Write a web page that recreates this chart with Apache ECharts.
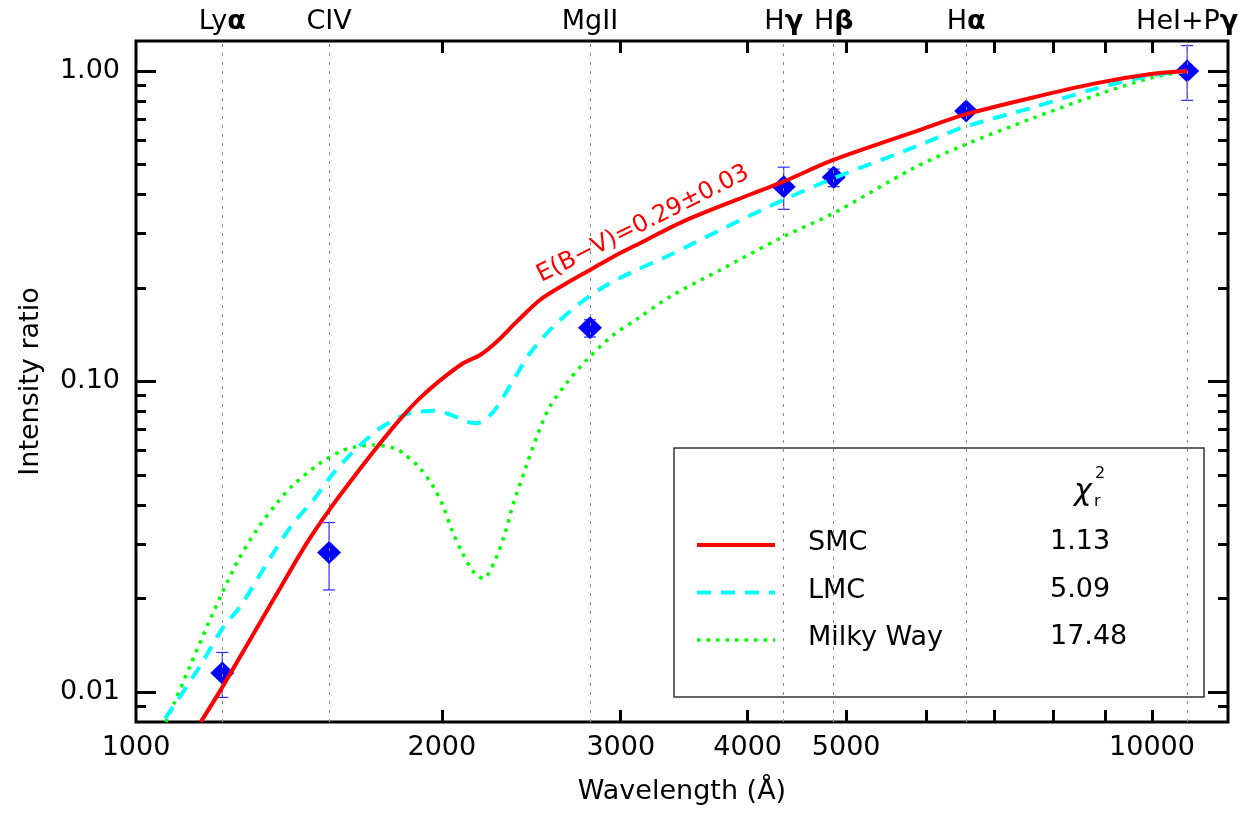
<!DOCTYPE html>
<html><head><meta charset="utf-8">
<script src="https://cdn.jsdelivr.net/npm/echarts@6/dist/echarts.min.js"></script>
<style>html,body{margin:0;padding:0;background:#fff}#c{width:1258px;height:817px}</style>
</head><body><div id="c"></div><script>
// ---- data ----
const lineWavelengths = [1216, 1549, 2798, 4340, 4861, 6563, 10830];
const lineNames = ['Ly{g|α}', 'CIV', 'MgII', 'H{g|γ}', 'H{g|β}', 'H{g|α}', 'HeI+P{g|γ}'];
const xTickValues = [2000, 3000, 4000, 5000, 6000, 7000, 8000, 9000, 10000];
const xLabelValues = [1000, 2000, 3000, 4000, 5000, 10000];
const yMajorValues = [0.01, 0.1, 1];
const yMinorValues = [0.009, 0.02, 0.03, 0.04, 0.05, 0.06, 0.07, 0.08, 0.09, 0.2, 0.3, 0.4, 0.5, 0.6, 0.7, 0.8, 0.9];

const smcWave = [1158, 1217, 1365, 1472, 1550, 1649, 1739, 1819, 1904, 1992, 2099, 2181, 2265, 2370, 2498, 2653, 2798, 2950, 3133, 3483, 4052, 4337, 4857, 5912, 6514, 7620, 8848, 9978, 10830];
const smcRatio = [0.0080, 0.0104, 0.0198, 0.0301, 0.0386, 0.0506, 0.0632, 0.0755, 0.0885, 0.1008, 0.1145, 0.1217, 0.1343, 0.1558, 0.1830, 0.2071, 0.2286, 0.2523, 0.2788, 0.3313, 0.4038, 0.4399, 0.5169, 0.6457, 0.7205, 0.8203, 0.9155, 0.9779, 1.0];

const lmcWave = [1068, 1156, 1219, 1266, 1365, 1428, 1495, 1564, 1649, 1739, 1819, 1861, 1962, 2022, 2132, 2165, 2248, 2352, 2442, 2574, 2735, 2906, 3110, 3354, 3815, 4337, 4857, 5912, 6514, 7620, 8848, 9978, 10830];
const lmcRatio = [0.0082, 0.0121, 0.0162, 0.0188, 0.0280, 0.0349, 0.0415, 0.0506, 0.0609, 0.0707, 0.0770, 0.0790, 0.0805, 0.0790, 0.0737, 0.0734, 0.0799, 0.1011, 0.1232, 0.1501, 0.1786, 0.2045, 0.2286, 0.2555, 0.3150, 0.3842, 0.4512, 0.5777, 0.6577, 0.7616, 0.8822, 0.9665, 1.0];

const mwWave = [1070, 1092, 1130, 1178, 1217, 1261, 1315, 1376, 1428, 1517, 1588, 1636, 1713, 1798, 1833, 1904, 1962, 2007, 2045, 2092, 2148, 2197, 2257, 2308, 2352, 2415, 2480, 2555, 2653, 2787, 2950, 3121, 3354, 3758, 4337, 4857, 5823, 6514, 7620, 8848, 9978, 10830];
const mwRatio = [0.0080, 0.0093, 0.0121, 0.0166, 0.0210, 0.0266, 0.0333, 0.0405, 0.0464, 0.0545, 0.0594, 0.0614, 0.0624, 0.0609, 0.0587, 0.0525, 0.0458, 0.0395, 0.0333, 0.0283, 0.0244, 0.0232, 0.0266, 0.0325, 0.0405, 0.0519, 0.0664, 0.0830, 0.0987, 0.1188, 0.1412, 0.1598, 0.1875, 0.2286, 0.2926, 0.3480, 0.4860, 0.5751, 0.7031, 0.8400, 0.9495, 1.0];

const obsRatio = [0.0115, 0.0281, 0.149, 0.424, 0.455, 0.743, 1.0];
const obsLow = [0.0096, 0.0213, 0.139, 0.3585, 0.424, 0.730, 0.804];
const obsHigh = [0.0134, 0.0351, 0.158, 0.490, 0.483, 0.757, 1.207];

const fitNames = ['SMC', 'LMC', 'Milky Way'];
const chi2Values = ['1.13', '5.09', '17.48'];
const ebvText = 'E(B−V)=0.29±0.03';
const ebvAnchor = [3156, 0.3216];

// ---- chart ----
const FONT = 'DejaVu Sans';
const FS = 27;
const X_MIN = 1000, X_MAX = 11880, Y_MIN = 0.008, Y_MAX = 1.249;
const zip = (a, b) => a.map((v, i) => [v, b[i]]);
const fitStyles = [
  { color: '#ff0000', width: 4, dash: null },
  { color: '#00ffff', width: 4, dash: [14, 10] },
  { color: '#00ff00', width: 3.5, dash: [3.5, 6] }
];

function xAxisBase(extra) {
  return Object.assign({
    type: 'log', logBase: 10, min: X_MIN, max: X_MAX,
    axisLine: { show: false }, splitLine: { show: false },
    axisTick: { show: false }, axisLabel: { show: false }
  }, extra);
}
function yAxisBase(extra) {
  return Object.assign({
    type: 'log', logBase: 10, min: Y_MIN, max: Y_MAX,
    axisLine: { show: false }, splitLine: { show: false },
    axisTick: { show: false }, axisLabel: { show: false }
  }, extra);
}
const tickStyle = { color: '#000', width: 3 };

const chart = echarts.init(document.getElementById('c'), null, { renderer: 'canvas' });

// legend drawn as graphic elements (box, line samples, names, chi^2 column)
const legendGraphic = [
  { type: 'rect', shape: { x: 674, y: 448, width: 530, height: 249 }, style: { fill: 'none', stroke: '#333', lineWidth: 1.5 }, z: 1 },
  { type: 'text', x: 1074, y: 492, style: { text: 'χ', font: 'italic 30px "DejaVu Sans"', fill: '#000', verticalAlign: 'middle' } },
  { type: 'text', x: 1095, y: 474, style: { text: '2', font: '16px "DejaVu Sans"', fill: '#000', verticalAlign: 'middle' } },
  { type: 'text', x: 1094, y: 502, style: { text: 'r', font: '16px "DejaVu Sans"', fill: '#000', verticalAlign: 'middle' } }
];
fitNames.forEach((name, i) => {
  const y = 545 + i * 47.5;
  const s = fitStyles[i];
  legendGraphic.push({ type: 'line', shape: { x1: 697, y1: y, x2: 775, y2: y },
    style: { stroke: s.color, lineWidth: s.width, lineDash: s.dash || undefined }, z: 10 });
  legendGraphic.push({ type: 'text', x: 808, y: y - 2, style: { text: name, font: FS + 'px "DejaVu Sans"', fill: '#000', verticalAlign: 'middle' } });
  legendGraphic.push({ type: 'text', x: 1050, y: y - 3, style: { text: chi2Values[i], font: FS + 'px "DejaVu Sans"', fill: '#000', verticalAlign: 'middle' } });
});

const option = {
  backgroundColor: '#fff',
  animation: false,
  grid: { left: 136, right: 30, top: 41, bottom: 95, show: true, borderColor: '#000', borderWidth: 3, backgroundColor: 'transparent' },
  xAxis: [
    xAxisBase({
      position: 'bottom',
      axisTick: { show: true, inside: true, length: 12, lineStyle: tickStyle, customValues: xTickValues },
      axisLabel: { show: true, customValues: xLabelValues, margin: 12, fontSize: FS, fontFamily: FONT, color: '#000', formatter: v => String(Math.round(v)) },
      name: 'Wavelength (Å)', nameLocation: 'middle', nameGap: 56,
      nameTextStyle: { fontSize: FS, fontFamily: FONT, color: '#000' }
    }),
    xAxisBase({
      position: 'top',
      axisTick: { show: true, inside: true, length: 12, lineStyle: tickStyle, customValues: xTickValues }
    }),
    xAxisBase({
      position: 'top',
      axisLabel: {
        show: true, customValues: lineWavelengths, margin: 6, fontSize: FS, fontFamily: FONT, color: '#000',
        formatter: v => { const i = lineWavelengths.findIndex(w => Math.abs(w - v) < 2); return i >= 0 ? lineNames[i] : ''; },
        rich: { g: { fontSize: FS, fontFamily: FONT, fontWeight: 'bold', color: '#000' } }
      }
    })
  ],
  yAxis: [
    yAxisBase({
      position: 'left',
      axisTick: { show: true, inside: true, length: 20, lineStyle: tickStyle, customValues: yMajorValues },
      axisLabel: { show: true, customValues: yMajorValues, margin: 16, fontSize: FS, fontFamily: FONT, color: '#000', formatter: v => v.toFixed(2) },
      name: 'Intensity ratio', nameLocation: 'middle', nameGap: 92,
      nameTextStyle: { fontSize: FS, fontFamily: FONT, color: '#000' }
    }),
    yAxisBase({ position: 'left', axisTick: { show: true, inside: true, length: 10, lineStyle: tickStyle, customValues: yMinorValues } }),
    yAxisBase({ position: 'right', axisTick: { show: true, inside: true, length: 20, lineStyle: tickStyle, customValues: yMajorValues } }),
    yAxisBase({ position: 'right', axisTick: { show: true, inside: true, length: 10, lineStyle: tickStyle, customValues: yMinorValues } })
  ],
  series: [
    {
      type: 'custom', name: 'err', z: 2, clip: true,
      data: lineWavelengths.map((w, i) => [w, obsLow[i], obsHigh[i]]),
      encode: { x: 0, y: [1, 2] },
      renderItem: (params, api) => {
        const top = api.coord([api.value(0), api.value(2)]);
        const bot = api.coord([api.value(0), api.value(1)]);
        const cap = 6, st = { stroke: '#2a2aff', lineWidth: 1.2 };
        return { type: 'group', children: [
          { type: 'line', shape: { x1: top[0], y1: top[1], x2: bot[0], y2: bot[1] }, style: st },
          { type: 'line', shape: { x1: top[0] - cap, y1: top[1], x2: top[0] + cap, y2: top[1] }, style: st },
          { type: 'line', shape: { x1: bot[0] - cap, y1: bot[1], x2: bot[0] + cap, y2: bot[1] }, style: st }
        ] };
      },
      markLine: {
        silent: true, symbol: ['none', 'none'], label: { show: false },
        lineStyle: { color: '#8a8a8a', type: [3, 6], width: 1 },
        data: lineWavelengths.map(w => ({ xAxis: w }))
      }
    },
    {
      type: 'scatter', name: 'obs', z: 3, symbol: 'diamond', symbolSize: [24, 23],
      itemStyle: { color: '#0000ff', opacity: 1 },
      data: zip(lineWavelengths, obsRatio)
    },
    {
      type: 'line', name: 'Milky Way', z: 4, symbol: 'none', smooth: 0.3,
      lineStyle: { color: fitStyles[2].color, width: fitStyles[2].width, type: fitStyles[2].dash },
      data: zip(mwWave, mwRatio)
    },
    {
      type: 'line', name: 'LMC', z: 5, symbol: 'none', smooth: 0.3,
      lineStyle: { color: fitStyles[1].color, width: fitStyles[1].width, type: fitStyles[1].dash },
      data: zip(lmcWave, lmcRatio)
    },
    {
      type: 'line', name: 'SMC', z: 6, symbol: 'none', smooth: 0.3,
      lineStyle: { color: fitStyles[0].color, width: fitStyles[0].width },
      data: zip(smcWave, smcRatio),
      markPoint: {
        silent: true, symbol: 'circle', symbolSize: 0,
        label: { show: true, formatter: ebvText, rotate: 26.6, color: '#ff0000', fontSize: 24, fontFamily: FONT, position: 'inside' },
        data: [{ coord: ebvAnchor }]
      }
    }
  ],
  graphic: legendGraphic
};
chart.setOption(option);
</script></body></html>
